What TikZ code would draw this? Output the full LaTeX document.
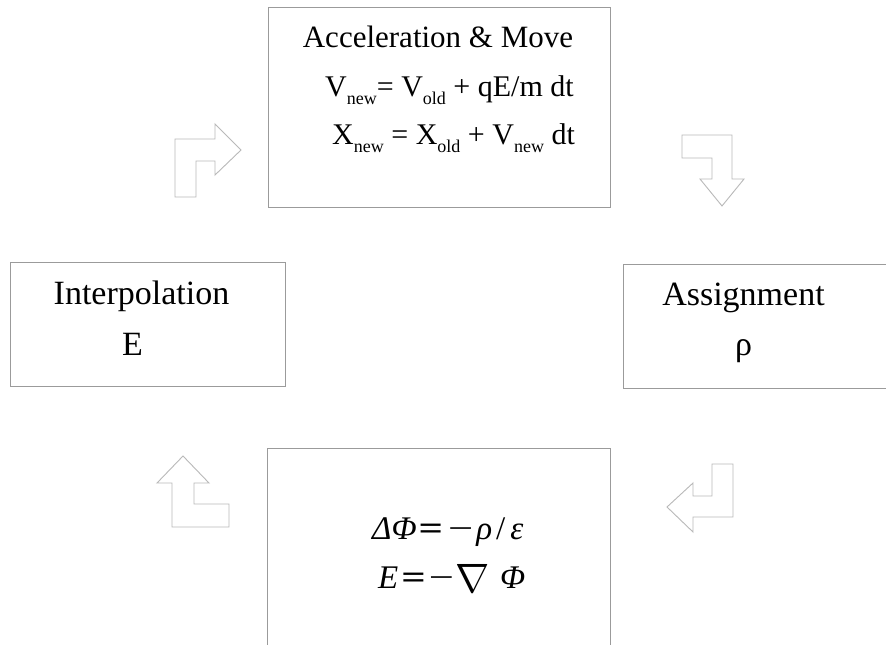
\documentclass[tikz,border=0pt]{standalone}
\usepackage{fontspec}
\setmainfont{Liberation Serif}
\newcommand{\sbs}[1]{\raisebox{-0.28em}{\fontsize{18}{20}\selectfont #1}}
\newcommand{\beq}{\scalebox{1.3}[1]{\textbf{=}}}
\newcommand{\bmin}{\scalebox{1.35}[1]{−}}
\begin{document}
\begin{tikzpicture}[x=1pt,y=-1pt,
  box/.style={draw=boxgray,line width=1pt},
  blockarrow/.style={draw=arrowgray,line width=0.9pt,fill=white,line join=miter},
  lbl/.style={anchor=base,inner sep=0pt,font=\fontsize{31}{37}\selectfont},
  side/.style={anchor=base,inner sep=0pt,font=\fontsize{34}{40}\selectfont},
  formula/.style={anchor=base west,inner sep=0pt,font=\fontsize{30}{36}\selectfont},
  eqn/.style={anchor=base west,inner sep=0pt,font=\fontsize{33}{39}\selectfont}]
\definecolor{boxgray}{RGB}{155,155,155}
\definecolor{arrowgray}{RGB}{185,185,185}
\useasboundingbox (0,0) rectangle (886,645);
\fill[white] (0,0) rectangle (886,645);
% boxes
\draw[box] (268,7) rectangle (610,207);
\draw[box] (10,262) rectangle (285,386);
\draw[box] (623,264) rectangle (895,388);
\draw[box] (267,448) rectangle (610,655);
% top box text
\node[lbl] (t1) at (438,47) {Acceleration \& Move};
\node[formula] (t2) at (325,96) {V\sbs{new}= V\sbs{old} + qE/m dt};
\node[formula] (t3) at (332,144) {X\sbs{new} = X\sbs{old} + V\sbs{new} dt};
% left box
\node[side] (i1) at (141.5,304) {Interpolation};
\node[side] (i2) at (132.5,355) {E};
% right box
\node[side] (a1) at (743.5,305) {Assignment};
\node[side] (a2) at (743.5,355) {ρ};
% bottom box
\node[eqn] (e1) at (372,539) {\textit{Δ}\textit{Φ}\hspace{2pt}\beq\hspace{5pt}\bmin\hspace{3pt}\textit{ρ}\hspace{4pt}/\hspace{5pt}\textit{ε}};
\node[eqn] (e2) at (378,588) {\textit{E}\hspace{3pt}\beq\hspace{3pt}\bmin\hspace{2pt}\raisebox{-4pt}{\scalebox{1.65}{$\nabla$}}\hspace{10pt}\textit{Φ}};
% block arrows
\draw[blockarrow] (175,197) -- (175,139) -- (215,139) -- (215,124) -- (241,150) -- (215,175) -- (215,161) -- (196,161) -- (196,197) -- cycle;
\draw[blockarrow] (682,135) -- (732,135) -- (732,179) -- (744,179) -- (722,206) -- (700,179) -- (712,179) -- (712,158) -- (682,158) -- cycle;
\draw[blockarrow] (712,464) -- (733,464) -- (733,517) -- (693,517) -- (693,532) -- (667,507) -- (693,483) -- (693,496) -- (712,496) -- cycle;
\draw[blockarrow] (172,527) -- (172,483) -- (157,483) -- (183,456) -- (209,483) -- (194,483) -- (194,504) -- (229,504) -- (229,527) -- cycle;
\end{tikzpicture}
\end{document}
